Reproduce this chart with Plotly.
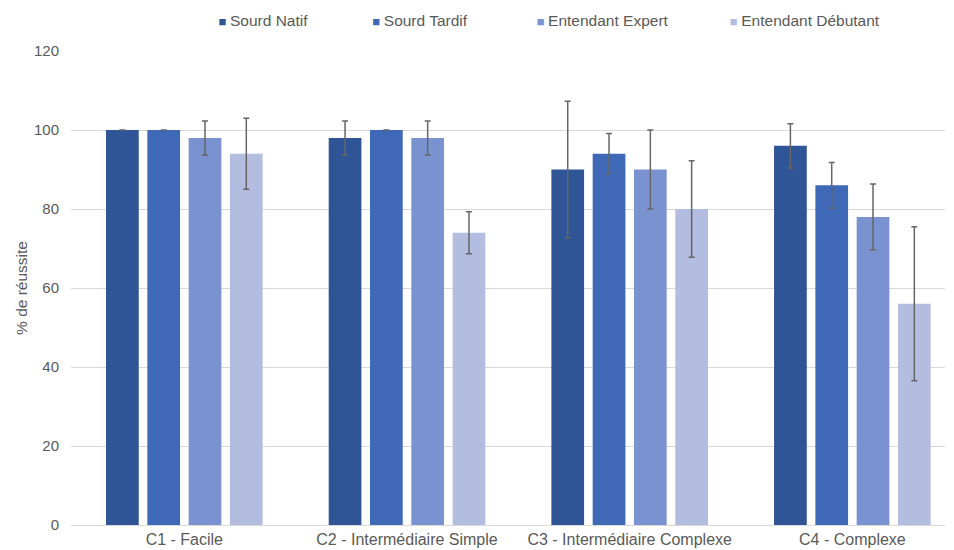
import plotly.graph_objects as go

categories = ["C1 - Facile", "C2 - Intermédiaire Simple", "C3 - Intermédiaire Complexe", "C4 - Complexe"]
series_names = ["Sourd Natif", "Sourd Tardif", "Entendant Expert", "Entendant Débutant"]

sourd_natif = [100, 98, 90, 96]
sourd_tardif = [100, 100, 94, 86]
entendant_expert = [98, 98, 90, 78]
entendant_debutant = [94, 74, 80, 56]

err_sourd_natif = [0, 4.3, 17.3, 5.6]
err_sourd_tardif = [0, 0, 5.1, 5.8]
err_entendant_expert = [4.3, 4.3, 10, 8.3]
err_entendant_debutant = [9, 5.3, 12.2, 19.5]

colors = ["#305597", "#3F68B7", "#7A93D0", "#B3BDE0"]

values = [sourd_natif, sourd_tardif, entendant_expert, entendant_debutant]
errors = [err_sourd_natif, err_sourd_tardif, err_entendant_expert, err_entendant_debutant]

legend_ids = ["legend", "legend2", "legend3", "legend4"]
legend_x = [0.123, 0.299, 0.487, 0.708]

fig = go.Figure()
for name, vals, errs, col, lid in zip(series_names, values, errors, colors, legend_ids):
    fig.add_trace(go.Bar(
        name=name, x=categories, y=vals, marker_color=col,
        marker_line_width=0, showlegend=False,
        error_y=dict(type="data", array=errs, visible=True, color="#666666", thickness=1.5, width=3),
    ))
    # legend entry: coloured small square drawn as text before the name
    fig.add_trace(go.Scatter(
        x=[None], y=[None], mode="lines", line=dict(width=0, color=col),
        name=f'<span style="color:{col};font-size:13px">■ </span>{name}',
        legend=lid, showlegend=True, hoverinfo="skip",
    ))

legend_common = dict(orientation="h", xanchor="left", yanchor="top", yref="paper",
                     y=1.101, itemwidth=30, bgcolor="rgba(0,0,0,0)",
                     font=dict(family="Liberation Sans, Arial, sans-serif", size=15.5, color="#595959"))

layout_legends = {}
for lid, lx in zip(legend_ids, legend_x):
    layout_legends[lid] = dict(x=lx, **legend_common)

fig.update_layout(
    width=946, height=542,
    barmode="group", bargap=0.258, bargroupgap=0.208,
    plot_bgcolor="white", paper_bgcolor="white",
    margin=dict(l=63, r=9, t=43, b=25, autoexpand=False),
    font=dict(family="Liberation Sans, Arial, sans-serif", size=16, color="#595959"),
    yaxis=dict(range=[0, 120], dtick=20, showgrid=True, gridcolor="#D9D9D9", gridwidth=1,
               zeroline=False, showline=False, ticks="", automargin=False,
               ticklabelstandoff=11,
               tickfont=dict(size=15, color="#595959"),
               title=dict(text="% de réussite", font=dict(size=15.5, color="#595959"), standoff=2)),
    xaxis=dict(type="category", range=[-0.509, 3.416],
               showline=True, linecolor="#D9D9D9", linewidth=1, ticks="", automargin=False,
               tickfont=dict(size=16, color="#595959")),
    **layout_legends,
)

fig.write_html("out.html")
